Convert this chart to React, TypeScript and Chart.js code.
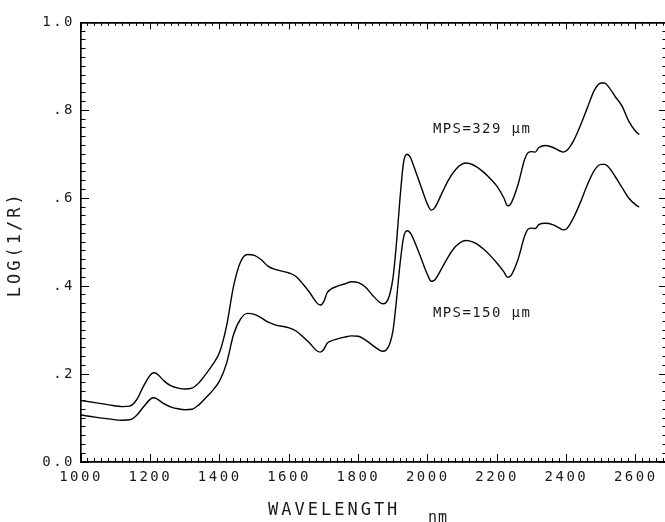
import { useEffect, useRef } from "react";
import { Chart, registerables } from "chart.js";

Chart.register(...registerables);

// Wavelength grid (nm) shared by both spectra
const wavelengths = [
  1000, 1040, 1080, 1120, 1140, 1160, 1180, 1200, 1210, 1220, 1240, 1260, 1280, 1300, 1320, 1340,
  1360, 1380, 1400, 1420, 1440, 1460, 1480, 1500, 1520, 1540, 1560, 1600, 1620, 1640, 1660, 1680,
  1690, 1700, 1710, 1720, 1740, 1760, 1780, 1800, 1820, 1840, 1860, 1870, 1880, 1890, 1900, 1910,
  1920, 1930, 1940, 1950, 1960, 1980, 2000, 2010, 2020, 2040, 2060, 2080, 2100, 2110, 2120, 2140,
  2160, 2180, 2200, 2220, 2230, 2240, 2260, 2280, 2290, 2300, 2310, 2320, 2340, 2360, 2380, 2390,
  2400, 2420, 2440, 2460, 2480, 2500, 2510, 2520, 2540, 2560, 2580, 2600, 2610,
];

// log(1/R), coarse grind (MPS = 329 µm)
const mps329 = [
  0.140, 0.135, 0.130, 0.126, 0.127, 0.141, 0.172, 0.198, 0.203, 0.200, 0.184, 0.173, 0.168, 0.166, 0.168, 0.180,
  0.200, 0.222, 0.250, 0.310, 0.400, 0.455, 0.472, 0.470, 0.460, 0.445, 0.438, 0.430, 0.422, 0.405, 0.385, 0.362,
  0.357, 0.365, 0.385, 0.393, 0.400, 0.405, 0.410, 0.408, 0.398, 0.380, 0.364, 0.360, 0.363, 0.380, 0.420, 0.500,
  0.600, 0.680, 0.700, 0.693, 0.672, 0.628, 0.585, 0.573, 0.578, 0.610, 0.642, 0.665, 0.678, 0.680, 0.679, 0.672,
  0.660, 0.645, 0.627, 0.600, 0.583, 0.588, 0.630, 0.690, 0.704, 0.706, 0.705, 0.715, 0.720, 0.716, 0.708, 0.705,
  0.708, 0.730, 0.765, 0.805, 0.845, 0.862, 0.862, 0.855, 0.832, 0.810, 0.775, 0.752, 0.745,
];

// log(1/R), fine grind (MPS = 150 µm)
const mps150 = [
  0.107, 0.102, 0.098, 0.095, 0.096, 0.106, 0.125, 0.143, 0.146, 0.143, 0.132, 0.125, 0.121, 0.119, 0.120, 0.130,
  0.146, 0.163, 0.185, 0.225, 0.290, 0.325, 0.338, 0.336, 0.328, 0.318, 0.312, 0.305, 0.298, 0.285, 0.270, 0.253,
  0.250, 0.256, 0.270, 0.275, 0.280, 0.284, 0.287, 0.286, 0.278, 0.266, 0.255, 0.252, 0.255, 0.268, 0.300, 0.370,
  0.450, 0.510, 0.526, 0.521, 0.505, 0.465, 0.425, 0.411, 0.414, 0.440, 0.468, 0.490, 0.502, 0.504, 0.503, 0.497,
  0.485, 0.470, 0.452, 0.432, 0.420, 0.424, 0.460, 0.515, 0.530, 0.532, 0.531, 0.540, 0.543, 0.540, 0.532, 0.528,
  0.530, 0.555, 0.590, 0.630, 0.663, 0.677, 0.677, 0.672, 0.650, 0.625, 0.600, 0.585, 0.580,
];

const yTickLabels = ["0.0", ".2", ".4", ".6", ".8", "1.0"];
const seriesLabels = ["MPS=329 μm", "MPS=150 μm"];
const xTitle = "WAVELENGTH";
const xUnit = "nm";
const yTitle = "LOG(1/R)";

const X_MIN = 1000;
const X_MAX = 2690;
const MONO = '"DejaVu Sans Mono", monospace';
const INK = "#000";
const TEXT_INK = "#1a1a1a";

type Side = "top" | "bottom" | "left" | "right";

// Frame axis: only inward tick marks and the border line
function frameAxis(side: Side, weight: number, step: number, tickLen: number, size: number, showLabels = false) {
  const horizontal = side === "top" || side === "bottom";
  return {
    type: "linear" as const,
    axis: horizontal ? "x" : "y",
    position: side,
    weight,
    min: horizontal ? X_MIN : 0,
    max: horizontal ? X_MAX : 1,
    ticks: {
      display: showLabels,
      stepSize: step,
      autoSkip: false,
      includeBounds: false,
      maxRotation: 0,
      color: TEXT_INK,
      font: { family: MONO, size: 14 },
      padding: horizontal ? 15 : 14,
      callback: horizontal
        ? (v: number) => String(v)
        : (v: number) => yTickLabels[Math.round(v / 0.2)] ?? "",
    },
    grid: {
      drawOnChartArea: false,
      drawTicks: true,
      tickLength: -tickLen,
      tickColor: INK,
      tickWidth: 1,
    },
    border: { display: true, color: INK, width: 1.4 },
    afterFit: (scale: any) => {
      if (horizontal) scale.height = size;
      else scale.width = size;
    },
  };
}

const labelsPlugin = {
  id: "plotText",
  beforeDraw(chart: any) {
    chart.ctx.letterSpacing = "2.5px";
  },
  afterDraw(chart: any) {
    const { ctx, chartArea, scales } = chart;
    ctx.save();
    ctx.fillStyle = TEXT_INK;
    ctx.textBaseline = "middle";

    // series annotations, anchored in data space
    ctx.font = `14px ${MONO}`;
    ctx.letterSpacing = "1.4px";
    ctx.textAlign = "left";
    ctx.fillText(seriesLabels[0], scales.x.getPixelForValue(2015), scales.y.getPixelForValue(0.757));
    ctx.fillText(seriesLabels[1], scales.x.getPixelForValue(2015), scales.y.getPixelForValue(0.337));

    // x axis title with unit
    ctx.font = `17px ${MONO}`;
    ctx.letterSpacing = "3px";
    ctx.fillText(xTitle, chartArea.left + 187, chartArea.bottom + 49);
    ctx.font = `15px ${MONO}`;
    ctx.letterSpacing = "1px";
    ctx.fillText(xUnit, chartArea.left + 347, chartArea.bottom + 56);

    // y axis title
    ctx.font = `17px ${MONO}`;
    ctx.letterSpacing = "3px";
    ctx.translate(16, (chartArea.top + chartArea.bottom) / 2 + 2);
    ctx.rotate(-Math.PI / 2);
    ctx.textAlign = "center";
    ctx.fillText(yTitle, 0, 0);
    ctx.restore();
    ctx.letterSpacing = "0px";
  },
};

export default function App() {
  const canvasRef = useRef<HTMLCanvasElement | null>(null);

  useEffect(() => {
    const canvas = canvasRef.current;
    if (!canvas) return;
    const chart = new Chart(canvas, {
      type: "line",
      data: {
        datasets: [
          {
            label: seriesLabels[0],
            data: wavelengths.map((w, i) => ({ x: w, y: mps329[i] })),
            borderColor: INK,
            borderWidth: 1.4,
            pointRadius: 0,
            cubicInterpolationMode: "monotone",
            xAxisID: "x",
            yAxisID: "y",
          },
          {
            label: seriesLabels[1],
            data: wavelengths.map((w, i) => ({ x: w, y: mps150[i] })),
            borderColor: INK,
            borderWidth: 1.4,
            pointRadius: 0,
            cubicInterpolationMode: "monotone",
            xAxisID: "x",
            yAxisID: "y",
          },
        ],
      },
      options: {
        responsive: false,
        animation: false,
        devicePixelRatio: 1,
        events: [],
        layout: { padding: 0 },
        plugins: { legend: { display: false }, tooltip: { enabled: false } },
        scales: {
          x: frameAxis("bottom", 1, 200, 8, 60, true),
          xMinor: frameAxis("bottom", 0, 20, 4, 0),
          xTop: frameAxis("top", 1, 200, 7, 16),
          xTopMinor: frameAxis("top", 0, 20, 3.5, 0),
          y: frameAxis("left", 1, 0.2, 8, 81, true),
          yMinor: frameAxis("left", 0, 0.02, 4.5, 0),
          yRight: frameAxis("right", 1, 0.2, 8, 1),
          yRightMinor: frameAxis("right", 0, 0.02, 4.5, 0),
        } as any,
      },
      plugins: [labelsPlugin],
    });
    return () => chart.destroy();
  }, []);

  return (
    <div
      style={{
        position: "absolute",
        left: 0,
        top: 0,
        width: 665,
        height: 522,
        overflow: "hidden",
        background: "#fff",
      }}
    >
      <canvas ref={canvasRef} width={668} height={522} />
    </div>
  );
}
